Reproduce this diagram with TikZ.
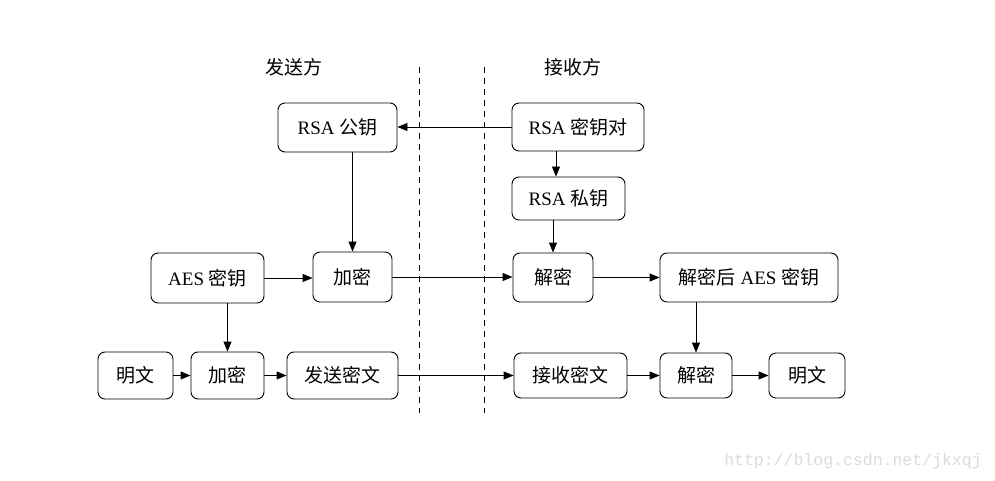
\documentclass[tikz,border=0pt]{standalone}
\usepackage{fontspec}
\setmainfont{Liberation Serif}
\newfontfamily\cjk{Noto Sans CJK SC}
\newfontfamily\wmfont{Liberation Mono}
\usetikzlibrary{arrows.meta}
\begin{document}
\begin{tikzpicture}[x=1pt,y=-1pt,
  box/.style={draw, line width=0.9pt, rounded corners=7pt, inner sep=0pt,
    font=\fontsize{19}{22}\selectfont},
  arr/.style={line width=0.9pt, -{Triangle[length=10pt,width=8pt]}},
  sep/.style={line width=0.9pt, dash pattern=on 6pt off 5pt},
  hdr/.style={font=\fontsize{19}{22}\selectfont\cjk}]
\useasboundingbox (0,0) rectangle (995,481);
\fill[white] (0,0) rectangle (995,481);
% headers
\node[hdr] (hs) at (294,67) {发送方};
\node[hdr] (hr) at (573,67) {接收方};
% separators
\coordinate (s1a) at (419,67); \coordinate (s1b) at (419,413);
\coordinate (s2a) at (484,67); \coordinate (s2b) at (484,413);
\draw[sep] (s1a) -- (s1b);
\draw[sep] (s2a) -- (s2b);
% nodes
\node[box, minimum width=119pt, minimum height=49pt] (pk) at (337.5,127.5) {RSA {\cjk 公钥}};
\node[box, minimum width=132pt, minimum height=48pt] (kp) at (578,127) {RSA {\cjk 密钥对}};
\node[box, minimum width=113pt, minimum height=43pt] (sk) at (568.5,198.5) {RSA {\cjk 私钥}};
\node[box, minimum width=113pt, minimum height=50pt] (aes) at (207.5,278) {AES {\cjk 密钥}};
\node[box, minimum width=79pt, minimum height=50pt] (enc1) at (352.5,277) {\cjk 加密};
\node[box, minimum width=80pt, minimum height=49pt] (dec1) at (553,277.5) {\cjk 解密};
\node[box, minimum width=178pt, minimum height=49pt] (daes) at (749,277.5) {{\cjk 解密后} AES {\cjk 密钥}};
\node[box, minimum width=75pt, minimum height=47pt] (m1) at (135.5,375.5) {\cjk 明文};
\node[box, minimum width=73pt, minimum height=47pt] (enc2) at (227.5,375.5) {\cjk 加密};
\node[box, minimum width=111pt, minimum height=47pt] (send) at (342.5,375.5) {\cjk 发送密文};
\node[box, minimum width=113pt, minimum height=45pt] (recv) at (570.5,375.5) {\cjk 接收密文};
\node[box, minimum width=72pt, minimum height=45pt] (dec2) at (696,375.5) {\cjk 解密};
\node[box, minimum width=76pt, minimum height=45pt] (m2) at (807,375.5) {\cjk 明文};
% connectors
\draw[arr] (kp.west) -- (kp.west -| pk.east);
\draw[arr] ([xshift=-22pt]kp.south) -- ([xshift=-22pt]kp.south |- sk.north);
\draw[arr] (pk.south -| enc1.north) -- (enc1.north);
\draw[arr] (sk.south -| dec1.north) -- (dec1.north);
\draw[arr] (aes.east) -- (aes.east -| enc1.west);
\draw[arr] (aes.south -| enc2.north) -- (enc2.north);
\draw[arr] (enc1.east) -- (enc1.east -| dec1.west);
\draw[arr] (dec1.east) -- (dec1.east -| daes.west);
\draw[arr] (daes.south -| dec2.north) -- (dec2.north);
\draw[arr] (m1.east) -- (enc2.west);
\draw[arr] (enc2.east) -- (send.west);
\draw[arr] (send.east) -- (recv.west);
\draw[arr] (recv.east) -- (dec2.west);
\draw[arr] (dec2.east) -- (m2.west);
% watermark
\node[text=black!14, font=\fontsize{16.5}{18}\selectfont\wmfont] (wm) at (853,461) {http://blog.csdn.net/jkxqj};
\end{tikzpicture}
\end{document}
